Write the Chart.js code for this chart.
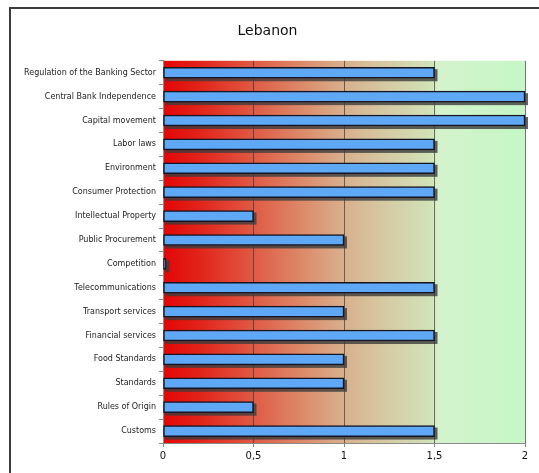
<!DOCTYPE html>
<html>
<head>
  <meta charset="utf-8">
  <title>Lebanon</title>
  <script src="https://cdnjs.cloudflare.com/ajax/libs/Chart.js/4.4.0/chart.umd.min.js"></script>
  <style>
    html, body {
      margin: 0;
      padding: 0;
      background: #ffffff;
      overflow: hidden;
    }
    .frame {
      position: absolute;
      left: 9px;
      top: 7px;
      width: 560px;
      height: 520px;
      border: 2px solid #3c3c3c;
    }
    .chart-box {
      position: absolute;
      left: 0;
      top: 0;
      width: 539px;
      height: 473px;
    }
  </style>
</head>
<body>
  <div class="frame"></div>
  <div class="chart-box">
    <canvas id="myChart" width="539" height="473"></canvas>
  </div>

  <script>
    // 항목 (위에서 아래 순서)
    const categories = [
      'Regulation of the Banking Sector',
      'Central Bank Independence',
      'Capital movement',
      'Labor laws',
      'Environment',
      'Consumer Protection',
      'Intellectual Property',
      'Public Procurement',
      'Competition',
      'Telecommunications',
      'Transport services',
      'Financial services',
      'Food Standards',
      'Standards',
      'Rules of Origin',
      'Customs'
    ];

    // 점수 (0 ~ 2)
    const scores = [1.5, 2, 2, 1.5, 1.5, 1.5, 0.5, 1, 0, 1.5, 1, 1.5, 1, 1, 0.5, 1.5];

    // x축 눈금
    const xTicks = [0, 0.5, 1, 1.5, 2];

    // 배경 그라데이션 (빨강 -> 황갈색 -> 연두)
    const backgroundPlugin = {
      id: 'gradientBackground',
      beforeDraw(chart) {
        const { ctx, chartArea: a } = chart;
        const g = ctx.createLinearGradient(a.left, 0, a.right, 0);
        g.addColorStop(0, '#e30606');
        g.addColorStop(0.1, '#e2231a');
        g.addColorStop(0.25, '#e05a44');
        g.addColorStop(0.4, '#dc8f6e');
        g.addColorStop(0.5, '#d8b08e');
        g.addColorStop(0.62, '#d5cba4');
        g.addColorStop(0.74, '#d2e2b8');
        g.addColorStop(0.76, '#d4f2cc');
        g.addColorStop(1, '#c6f7c6');
        ctx.save();
        ctx.fillStyle = g;
        ctx.fillRect(a.left, a.top, a.right - a.left, a.bottom - a.top);
        ctx.restore();
      }
    };

    // 막대 그림자 (오른쪽 아래로 2px)
    const shadowPlugin = {
      id: 'barShadow',
      beforeDatasetsDraw(chart) {
        const ctx = chart.ctx;
        const meta = chart.getDatasetMeta(0);
        ctx.save();
        ctx.fillStyle = 'rgba(60, 60, 60, 0.8)';
        meta.data.forEach(bar => {
          const p = bar.getProps(['x', 'y', 'base', 'height'], true);
          const w = Math.max(p.x - p.base, 3);
          ctx.fillRect(p.base + 2, p.y - p.height / 2 + 2, w + 1, p.height + 1);
        });
        ctx.restore();
      }
    };

    const ctx = document.getElementById('myChart').getContext('2d');
    const myChart = new Chart(ctx, {
      type: 'bar',
      data: {
        labels: categories,
        datasets: [{
          data: scores,
          backgroundColor: '#5ea8f6',
          borderColor: '#141422',
          borderWidth: 1.5,
          borderSkipped: false,
          barThickness: 11,
          minBarLength: 3
        }]
      },
      options: {
        indexAxis: 'y',
        responsive: false,
        animation: false,
        layout: {
          padding: { left: 10, right: 14, top: 0, bottom: 0 }
        },
        plugins: {
          legend: { display: false },
          tooltip: { enabled: false },
          title: {
            display: true,
            text: 'Lebanon',
            color: '#111111',
            font: { family: 'DejaVu Sans', size: 14, weight: 'normal' },
            padding: { top: 23, bottom: 21 }
          }
        },
        scales: {
          x: {
            min: 0,
            max: 2,
            afterBuildTicks(scale) {
              scale.ticks = xTicks.map(v => ({ value: v }));
            },
            afterFit(scale) {
              scale.height = 30;
            },
            border: { display: true, color: '#8a8a8a', width: 1 },
            grid: {
              color: 'rgba(60, 55, 45, 0.7)',
              lineWidth: 1,
              drawTicks: true,
              tickLength: 4,
              tickColor: '#8a8a8a'
            },
            ticks: {
              color: '#111111',
              padding: 3,
              font: { family: 'DejaVu Sans', size: 10 },
              callback: v => String(v).replace('.', ',')
            }
          },
          y: {
            afterFit(scale) {
              scale.width = 153;
            },
            border: { display: true, color: '#8a8a8a', width: 1 },
            grid: {
              offset: true,
              drawOnChartArea: false,
              drawTicks: true,
              tickLength: 4,
              tickColor: '#8a8a8a'
            },
            ticks: {
              color: '#222222',
              padding: 3,
              autoSkip: false,
              font: { family: 'DejaVu Sans', size: 8 }
            }
          }
        }
      },
      plugins: [backgroundPlugin, shadowPlugin]
    });
  </script>
</body>
</html>
